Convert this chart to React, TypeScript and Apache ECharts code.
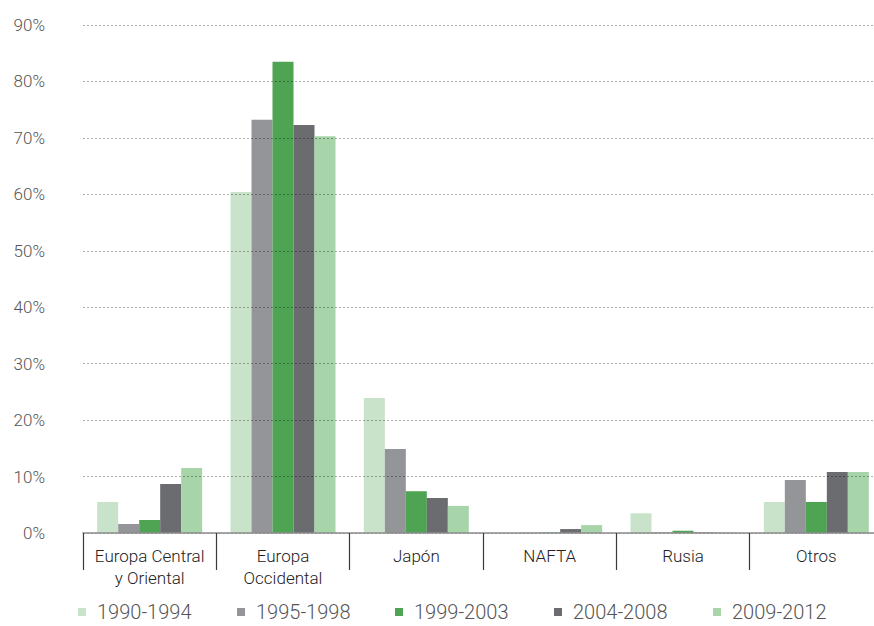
import React, { useEffect, useRef } from "react";
import * as echarts from "echarts";

const categories = ["Europa Central\ny Oriental", "Europa\nOccidental", "Japón", "NAFTA", "Rusia", "Otros"];
const periods = ["1990-1994", "1995-1998", "1999-2003", "2004-2008", "2009-2012"];
const colors = ["#c9e3cb", "#939598", "#4ea453", "#6b6c6f", "#a8d4aa"];
const legendLefts = [78, 237, 395, 554, 713];

const v1990_1994 = [5.5, 60.4, 23.9, 0, 3.5, 5.5];
const v1995_1998 = [1.6, 73.2, 14.9, 0.05, 0.1, 9.4];
const v1999_2003 = [2.3, 83.5, 7.4, 0.1, 0.4, 5.5];
const v2004_2008 = [8.7, 72.3, 6.2, 0.7, 0.1, 10.8];
const v2009_2012 = [11.5, 70.3, 4.8, 1.4, 0.1, 10.8];
const seriesValues = [v1990_1994, v1995_1998, v1999_2003, v2004_2008, v2009_2012];

const yTicks = { min: 0, max: 90, interval: 10 };

const FONT = "Roboto";

export default function App() {
  const ref = useRef<HTMLDivElement>(null);

  useEffect(() => {
    if (!ref.current) return;
    const chart = echarts.init(ref.current, null, { renderer: "svg" });
    chart.setOption({
      animation: false,
      backgroundColor: "#ffffff",
      textStyle: { fontFamily: FONT, fontWeight: 300 },
      grid: { left: 83, top: 25, width: 800, height: 508 },
      // one legend block per period so each entry keeps its own column
      legend: periods.map((p, i) => ({
        data: [p],
        left: legendLefts[i],
        top: 602,
        padding: 0,
        icon: "rect",
        itemWidth: 8,
        itemHeight: 8,
        textStyle: {
          fontFamily: FONT,
          fontWeight: 300,
          fontSize: 20,
          lineHeight: 20,
          color: "#555555",
          padding: [0, 0, 0, 6],
        },
      })),
      xAxis: {
        type: "category",
        data: categories,
        z: 6,
        axisLine: { show: true, lineStyle: { color: "#8c8c8c", width: 1.5 } },
        axisTick: { show: true, length: 37, lineStyle: { color: "#3a3a3a", width: 1.2 } },
        axisLabel: {
          color: "#222222",
          fontFamily: FONT,
          fontWeight: 300,
          fontSize: 17,
          lineHeight: 22,
          margin: 12,
          interval: 0,
        },
      },
      yAxis: {
        type: "value",
        min: yTicks.min,
        max: yTicks.max,
        interval: yTicks.interval,
        z: 5,
        axisLine: { show: false },
        axisTick: { show: false },
        axisLabel: {
          color: "#555555",
          fontFamily: FONT,
          fontWeight: 300,
          fontSize: 17,
          margin: 38,
          formatter: "{value}%",
        },
        splitLine: {
          show: true,
          lineStyle: { color: "rgba(0,0,0,0.32)", type: [2, 2], width: 1 },
        },
      },
      series: periods.map((p, i) => ({
        name: p,
        type: "bar",
        data: seriesValues[i],
        barWidth: 21,
        barGap: "0%",
        itemStyle: { color: colors[i] },
      })),
    });
    return () => chart.dispose();
  }, []);

  return (
    <div
      ref={ref}
      style={{ position: "fixed", left: 0, top: 0, width: 900, height: 626 }}
    />
  );
}
